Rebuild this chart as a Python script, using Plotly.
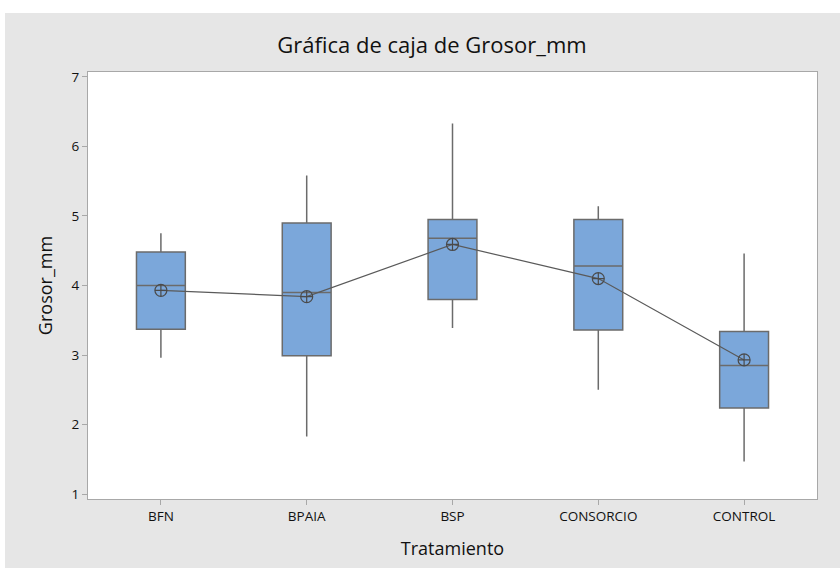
import plotly.graph_objects as go

categories = ["BFN", "BPAIA", "BSP", "CONSORCIO", "CONTROL"]
lower_whisker = [2.96, 1.83, 3.39, 2.50, 1.47]
q1_values = [3.37, 2.99, 3.80, 3.36, 2.24]
median_values = [4.00, 3.90, 4.68, 4.28, 2.85]
q3_values = [4.48, 4.90, 4.95, 4.95, 3.34]
upper_whisker = [4.75, 5.58, 6.33, 5.14, 4.46]
mean_values = [3.93, 3.84, 4.59, 4.10, 2.93]
y_ticks = [1, 2, 3, 4, 5, 6, 7]

FONT = "Open Sans"
fig = go.Figure()

fig.add_trace(go.Box(
    x=categories,
    q1=q1_values, median=median_values, q3=q3_values,
    lowerfence=lower_whisker, upperfence=upper_whisker,
    fillcolor="#7BA7DA",
    line=dict(color="#6b6b6b", width=1.5),
    whiskerwidth=0,
    width=0.335,
    boxpoints=False,
    showlegend=False,
    hoverinfo="skip",
))

fig.add_trace(go.Scatter(
    x=categories, y=mean_values,
    mode="lines+markers",
    line=dict(color="#5a5a5a", width=1.2),
    marker=dict(symbol="circle-cross-open", size=12, color="#4a4a4a",
                line=dict(width=1.2, color="#4a4a4a")),
    showlegend=False,
    hoverinfo="skip",
))

W, H = 840, 568
L, R, T, B = 88, 23, 72, 69
pw, ph = W - L - R, H - T - B

def px_x(p):
    return (p - L) / pw

def px_y(p):
    return (H - B - p) / ph

# white strips at top and left of the gray panel
fig.add_shape(type="rect", xref="paper", yref="paper",
              x0=px_x(-5), x1=px_x(W + 5), y0=px_y(13), y1=px_y(-5),
              fillcolor="white", line=dict(width=0), layer="above")
fig.add_shape(type="rect", xref="paper", yref="paper",
              x0=px_x(-5), x1=px_x(5), y0=px_y(H + 5), y1=px_y(-5),
              fillcolor="white", line=dict(width=0), layer="above")

fig.update_layout(
    width=W, height=H,
    margin=dict(l=L, r=R, t=T, b=B),
    paper_bgcolor="#E6E6E6",
    plot_bgcolor="white",
    font=dict(family=FONT, color="#111111"),
    title=dict(text="Gráfica de caja de Grosor_mm", x=(432 - L) / pw, xref="paper",
               xanchor="center",
               y=1 - 45 / H, yanchor="middle",
               font=dict(family=FONT, size=22, color="#111111")),
    xaxis=dict(
        type="category", range=[-0.5, 4.5],
        showgrid=False, zeroline=False,
        showline=True, mirror=True, linecolor="#a8a8a8", linewidth=1,
        ticks="outside", ticklen=5, tickcolor="#a8a8a8",
        tickfont=dict(size=13.5, color="#111111"),
        title=dict(text="Tratamiento", font=dict(size=18, color="#111111"), standoff=18),
    ),
    yaxis=dict(
        range=[0.93, 7.07],
        tickvals=y_ticks,
        showgrid=False, zeroline=False,
        showline=True, mirror=True, linecolor="#a8a8a8", linewidth=1,
        ticks="outside", ticklen=5, tickcolor="#a8a8a8",
        tickfont=dict(size=13.5, color="#111111"),
        title=dict(text="Grosor_mm", font=dict(size=18, color="#111111"), standoff=14),
    ),
)

fig.write_html("out.html", config={"displayModeBar": False},
               post_script="document.body.style.margin='0px';")
